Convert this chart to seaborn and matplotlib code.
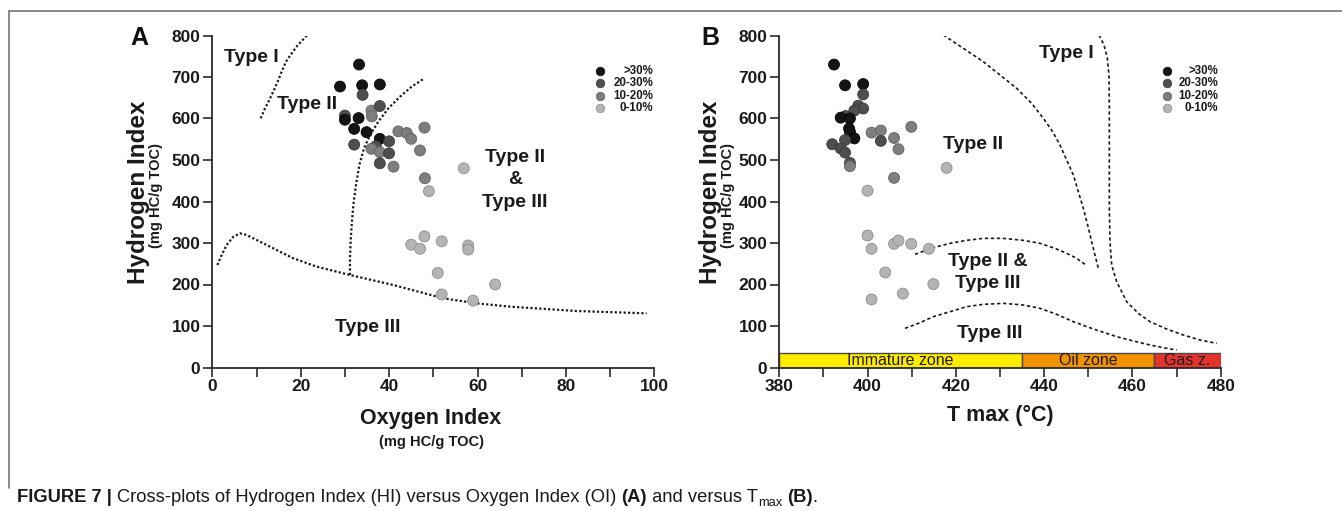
import numpy as np
import pandas as pd
import matplotlib
matplotlib.use("Agg")
import matplotlib.pyplot as plt
import seaborn as sns
from matplotlib.ticker import MultipleLocator
from matplotlib.lines import Line2D

sns.set_style("ticks")
plt.rcParams['font.family'] = ['Liberation Sans', 'DejaVu Sans']

# ---------------- data ----------------
classes = ['>30%', '20-30%', '10-20%', '0-10%']
class_fill = ['#141414', '#4e4e4e', '#7e7e7e', '#b4b4b4']
class_edge = ['#060606', '#3a3a3a', '#626262', '#8c8c8c']

# Panel A: Oxygen Index vs Hydrogen Index
oi_A = [33.2, 28.9, 33.9, 37.9, 34.0, 30.0, 30.0, 33.1, 36.0, 36.1,
        37.9, 32.1, 34.9, 37.9, 32.1, 40.0, 37.0, 36.0, 37.9, 40.0,
        37.9, 41.0, 42.1, 44.0, 45.0, 48.0, 47.0, 48.1, 49.0, 56.9,
        48.0, 45.0, 47.0, 51.9, 57.9, 57.9, 51.0, 51.9, 59.0, 64.0]
hi_A = [730, 677, 680, 682, 657, 607, 597, 601, 619, 605,
        630, 575, 567, 551, 537, 545, 533, 527, 519, 516,
        492, 484, 569, 565, 551, 578, 523, 456, 425, 480,
        316, 296, 286, 304, 294, 284, 228, 176, 161, 200]
cls_A = ['>30%', '>30%', '>30%', '>30%', '20-30%', '20-30%', '>30%', '>30%', '10-20%', '10-20%',
         '20-30%', '>30%', '>30%', '>30%', '20-30%', '20-30%', '20-30%', '10-20%', '10-20%', '20-30%',
         '20-30%', '10-20%', '10-20%', '10-20%', '10-20%', '10-20%', '10-20%', '10-20%', '0-10%', '0-10%',
         '0-10%', '0-10%', '0-10%', '0-10%', '0-10%', '0-10%', '0-10%', '0-10%', '0-10%', '0-10%']

# Panel B: Tmax vs Hydrogen Index
tmax_B = [392.4, 394.9, 399.0, 399.0, 397.9, 399.0, 397.0, 395.0, 393.9, 396.0,
          395.8, 396.0, 397.0, 392.0, 394.9, 393.9, 394.9, 396.0, 396.0, 400.9,
          403.0, 403.0, 406.0, 407.0, 409.9, 406.0, 417.9, 400.0, 400.0, 400.9,
          406.0, 407.0, 409.9, 413.9, 404.0, 414.9, 400.9, 408.0]
hi_B = [730, 680, 683, 658, 631, 624, 619, 606, 602, 600,
        576, 568, 552, 538, 548, 528, 518, 493, 485, 566,
        571, 546, 553, 526, 580, 457, 481, 426, 318, 286,
        298, 306, 298, 286, 229, 201, 164, 178]
cls_B = ['>30%', '>30%', '>30%', '20-30%', '20-30%', '20-30%', '20-30%', '20-30%', '>30%', '>30%',
         '>30%', '>30%', '>30%', '20-30%', '20-30%', '20-30%', '20-30%', '20-30%', '10-20%', '10-20%',
         '10-20%', '20-30%', '10-20%', '10-20%', '10-20%', '10-20%', '0-10%', '0-10%', '0-10%', '0-10%',
         '0-10%', '0-10%', '0-10%', '0-10%', '0-10%', '0-10%', '0-10%', '0-10%']

# Kerogen-type boundary curves, panel A (OI, HI)
a_type1_x = [10.94, 11.92, 12.90, 13.96, 14.94, 15.69, 16.67, 17.96, 19.24, 21.35]
a_type1_y = [600.4, 624.5, 644.6, 668.7, 692.8, 712.8, 736.9, 757.0, 775.5, 799.6]
a_type2_x = [31.15, 31.15, 31.30, 31.53, 31.91, 32.51, 33.27, 34.32, 35.68, 37.56, 39.83, 42.47, 45.11, 47.97]
a_type2_y = [222.9, 263.1, 303.2, 343.4, 391.6, 439.8, 488.0, 528.1, 560.2, 592.4, 624.5, 652.6, 676.7, 696.8]
a_type3_x = [1.14, 2.12, 3.25, 4.76, 6.27, 7.78, 10.79, 14.56, 18.33, 23.61, 31.15, 40.96, 52.27, 59.81, 67.35, 82.44, 98.27]
a_type3_y = [247.0, 271.1, 295.2, 315.3, 323.3, 319.3, 303.2, 283.1, 263.1, 243.0, 222.9, 198.8, 166.7, 154.6, 146.6, 136.1, 130.5]

# Boundary curves, panel B (Tmax, HI)
b_c1_x = [417.16, 421.69, 426.22, 430.00, 433.78, 437.17, 439.82, 441.93, 443.59, 445.10, 446.61, 447.75, 448.88, 449.86, 450.77, 451.52, 452.28]
b_c1_y = [801.2, 769.1, 736.9, 704.8, 672.7, 636.6, 600.4, 568.3, 536.1, 500.0, 463.9, 423.7, 383.5, 343.4, 303.2, 271.1, 239.0]
b_c2_x = [452.43, 453.56, 454.32, 454.69, 454.77, 454.77, 454.77, 454.92, 455.30, 456.43, 458.70, 461.34, 463.98, 467.76, 471.53, 475.31, 479.09]
b_c2_y = [801.2, 777.1, 745.0, 704.8, 624.5, 504.0, 383.5, 303.2, 247.0, 206.8, 158.6, 130.5, 110.4, 92.8, 78.3, 66.3, 58.2]
b_c3_x = [410.74, 414.90, 418.67, 422.45, 426.22, 430.75, 435.29, 439.06, 442.46, 445.10, 447.37, 449.26]
b_c3_y = [272.7, 288.8, 299.2, 306.4, 311.2, 311.2, 306.4, 299.2, 287.1, 275.1, 263.1, 248.6]
b_c4_x = [408.48, 411.88, 414.90, 418.67, 422.45, 426.22, 430.75, 435.29, 439.06, 442.84, 446.61, 451.15, 456.43, 460.21, 463.98, 467.76, 470.03]
b_c4_y = [94.4, 108.0, 122.5, 134.5, 146.6, 152.2, 154.6, 150.6, 142.6, 128.1, 110.4, 92.8, 74.3, 63.9, 54.2, 46.2, 42.2]

# Maturity zones (Tmax)
zone_names = ['Immature zone', 'Oil zone', 'Gas z.']
zone_start = [380, 435, 465]
zone_end = [435, 465, 480]
zone_colors = ['#ffec00', '#f39200', '#e4332b']
zone_height = 35

# ---------------- figure ----------------
W, H = 1342, 511
fig = plt.figure(figsize=(W / 100, H / 100), dpi=100)
fig.patch.set_facecolor('white')

def fx(px):
    return px / W

def fy(py):
    return 1 - py / H

axA = fig.add_axes([fx(212.3), fy(367.5), 442 / W, 332 / H])
axB = fig.add_axes([fx(779.3), fy(367.5), 441.4 / W, 332 / H])

palette = dict(zip(classes, class_fill))
edge_map = dict(zip(classes, class_edge))

def scatter(ax, x, y, c):
    df = pd.DataFrame({'x': x, 'y': y, 'cls': c})
    sns.scatterplot(data=df, x='x', y='y', hue='cls', palette=palette, hue_order=classes,
                    s=62, linewidth=0.6, legend=False, ax=ax, zorder=3)
    coll = ax.collections[-1]
    coll.set_edgecolors([edge_map[k] for k in c])
    coll.set_clip_on(False)

def legend(ax, xm, xt):
    ys = [0.894, 0.856, 0.818, 0.781]
    for lab, fc, ec, yy in zip(classes, class_fill, class_edge, ys):
        ax.scatter([xm], [yy], s=38, color=fc, edgecolors=ec, linewidths=0.5,
                   transform=ax.transAxes, zorder=4, clip_on=False)
        ax.text(xt, yy, lab, transform=ax.transAxes, ha='right', va='center',
                fontsize=8.3, fontweight='bold', color='#1a1a1a')

def style_axes(ax):
    for s in ['top', 'right']:
        ax.spines[s].set_visible(False)
    for s in ['left', 'bottom']:
        ax.spines[s].set_color('#2a2a2a')
        ax.spines[s].set_linewidth(1.3)
    ax.set_ylim(0, 800)
    ax.yaxis.set_major_locator(MultipleLocator(100))
    ax.xaxis.set_major_locator(MultipleLocator(20))
    ax.xaxis.set_minor_locator(MultipleLocator(10))
    ax.tick_params(axis='both', which='both', direction='out', length=6.5, width=1.2,
                   color='#2a2a2a', labelsize=12.5, labelcolor='#1a1a1a', pad=2)
    for lab in ax.get_xticklabels() + ax.get_yticklabels():
        lab.set_fontweight('bold')
    ax.set_xlabel('')
    ax.set_ylabel('')

lab_kw = dict(fontsize=14, fontweight='bold', color='#1a1a1a', ha='center', va='center')

# ---------- Panel A ----------
ax = axA
ax.set_xlim(0, 100)
dot_a = dict(color='#1a1a1a', lw=1.6, linestyle=(0, (1, 1)), zorder=2)
ax.plot(a_type1_x, a_type1_y, **dot_a)
ax.plot(a_type2_x, a_type2_y, **dot_a)
ax.plot(a_type3_x, a_type3_y, **dot_a)
scatter(ax, oi_A, hi_A, cls_A)
style_axes(ax)
ax.text(8.9, 746, 'Type I', **lab_kw)
ax.text(21.4, 634, 'Type II', **lab_kw)
ax.text(68.5, 452, 'Type II\n&\nType III', linespacing=1.45, **lab_kw)
ax.text(35.2, 96, 'Type III', **lab_kw)
legend(ax, 0.877, 0.997)
ax.text(0.495, -0.155, 'Oxygen Index', transform=ax.transAxes, ha='center', va='center',
        fontsize=15.5, fontweight='bold', color='#1a1a1a')
ax.text(0.495, -0.224, '(mg HC/g TOC)', transform=ax.transAxes, ha='center', va='center',
        fontsize=10.5, fontweight='bold', color='#1a1a1a')

# ---------- Panel B ----------
ax = axB
ax.set_xlim(380, 480)
dash_b = dict(color='#1a1a1a', lw=1.2, linestyle=(0, (2, 1.6)), zorder=2)
ax.plot(b_c1_x, b_c1_y, **dash_b)
ax.plot(b_c2_x, b_c2_y, **dash_b)
ax.plot(b_c3_x, b_c3_y, **dash_b)
ax.plot(b_c4_x, b_c4_y, **dash_b)
ax.bar(zone_start, zone_height, width=np.subtract(zone_end, zone_start), bottom=0,
       align='edge', color=zone_colors, edgecolor='#4a4a4a', linewidth=1.0, zorder=2.5)
for nm, a, b in zip(zone_names, zone_start, zone_end):
    ax.text((a + b) / 2, zone_height / 2 - 1, nm, ha='center', va='center',
            fontsize=11.5, color='#1a1a1a', zorder=5)
scatter(ax, tmax_B, hi_B, cls_B)
style_axes(ax)
ax.text(445.1, 757, 'Type I', **lab_kw)
ax.text(424.0, 538, 'Type II', **lab_kw)
ax.text(427.3, 229, 'Type II &\nType III', linespacing=1.35, **lab_kw)
ax.text(427.6, 82, 'Type III', **lab_kw)
legend(ax, 0.878, 0.994)
ax.text(0.501, -0.143, 'T max (°C)', transform=ax.transAxes, ha='center', va='center',
        fontsize=15.5, fontweight='bold', color='#1a1a1a')

# y labels
for axx, xm, xs in [(axA, 139, 156), (axB, 710, 728)]:
    fig.text(fx(xm), fy(192), 'Hydrogen Index', rotation=90, ha='center', va='center',
             fontsize=17.5, fontweight='bold', color='#1a1a1a')
    fig.text(fx(xs), fy(195), '(mg HC/g TOC)', rotation=90, ha='center', va='center',
             fontsize=10.5, fontweight='bold', color='#1a1a1a')

# panel letters
fig.text(fx(139), fy(38), 'A', ha='center', va='center', fontsize=18, fontweight='bold', color='#111111')
fig.text(fx(710), fy(38), 'B', ha='center', va='center', fontsize=18, fontweight='bold', color='#111111')

# frame lines
fig.add_artist(Line2D([fx(9.3), 1.0], [fy(10.7), fy(10.7)], color='#777777', lw=1.2))
fig.add_artist(Line2D([fx(9.3), fx(9.3)], [fy(10.7), fy(488)], color='#777777', lw=1.2))

# caption
fig.canvas.draw()
renderer = fig.canvas.get_renderer()
cap_fam = ['Liberation Sans', 'DejaVu Sans']
cs = 13.2
pieces = [("FIGURE 7 | ", 'bold', cs, 0),
          ("Cross-plots of Hydrogen Index (HI) versus Oxygen Index (OI) ", 'normal', cs, 0),
          ("(A)", 'bold', cs, 0),
          (" and versus T", 'normal', cs, 0),
          ("max", 'normal', cs * 0.7, -3.5),
          (" ", 'normal', cs, 0),
          ("(B)", 'bold', cs, 0),
          (".", 'normal', cs, 0)]
xpos = 17.0
base = 502.0
for txt, wt, fs, dy in pieces:
    t = fig.text(fx(xpos), fy(base - dy), txt, ha='left', va='baseline', fontsize=fs,
                 fontweight=wt, family=cap_fam, color='#1a1a1a')
    bb = t.get_window_extent(renderer=renderer)
    xpos += bb.width

fig.savefig('out.png', dpi=100, facecolor='white')
